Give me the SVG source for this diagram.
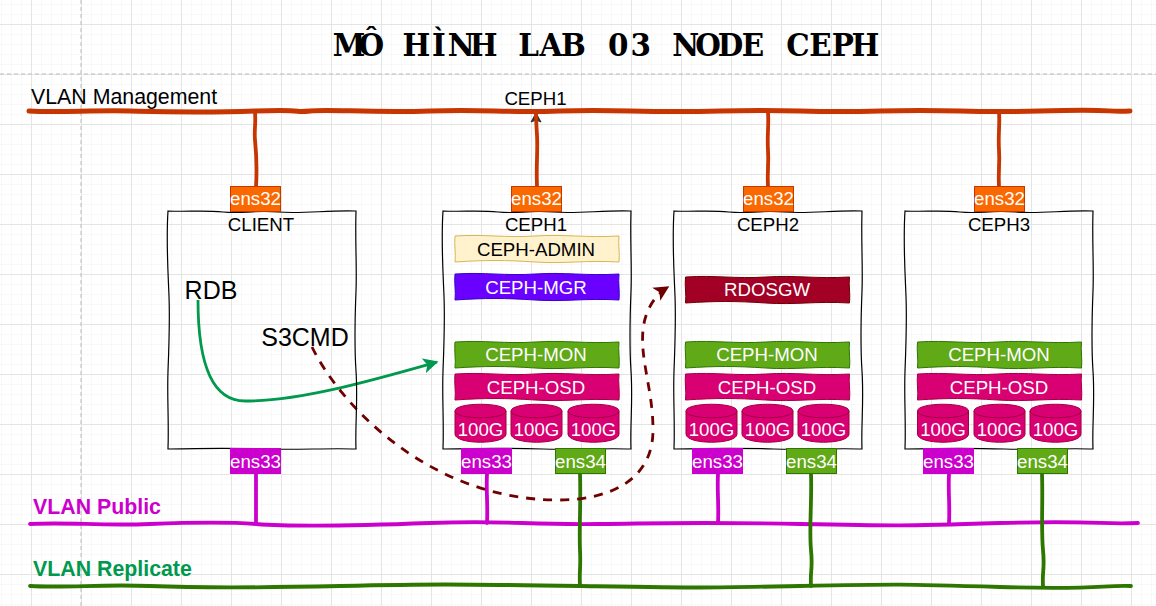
<svg xmlns="http://www.w3.org/2000/svg" width="1156" height="606" viewBox="0 0 1156 606">
<style>
text{font-family:"Liberation Sans",Arial,sans-serif;font-size:18.67px;text-anchor:middle;fill:#000}
.w{fill:#fff}
.title{font-family:"DejaVu Serif","Liberation Serif",serif;font-weight:bold;font-size:31px}
.vlan{font-size:21.33px;text-anchor:start}
.b{font-weight:bold}
.big{font-size:25px}
.box{fill:none;stroke:#000;stroke-width:1.2}
.orange{fill:#fa6800;stroke:#c73500}
.magenta{fill:#cc00cc;stroke:#cc00cc}
.green{fill:#60a917;stroke:#2d7600}
.violet{fill:#6a00ff;stroke:#3700cc}
.pink{fill:#d80073;stroke:#a50040}
.maroon{fill:#a20025;stroke:#6f0000}
.cream{fill:#fff2cc;stroke:#d6b656}
.link{fill:none;stroke-linecap:round;stroke-linejoin:round}
.m{stroke:#c73500;stroke-width:5}
.mv{stroke:#c73500;stroke-width:3.800}
.p{stroke:#cc00cc;stroke-width:3.800}
.r{stroke:#2d7600;stroke-width:3.800}
</style>
<defs>
<pattern id="minor" width="10" height="10" patternUnits="userSpaceOnUse" x="1" y="4"><path d="M0 0H10M0 0V10" fill="none" stroke="#f2f2f2" stroke-width="1"/></pattern>
<pattern id="major" width="50" height="50" patternUnits="userSpaceOnUse" x="31" y="24"><path d="M0 .5H50M.5 0V50" fill="none" stroke="#e4e4e4" stroke-width="1"/></pattern>
<path id="nodebox" class="box" d="M0 0C20 1 35-1 55 1S85-1 110 1 160-1 188 0C187 30 189 55 188 80S186 130 188 160 187 215 188 238C160 237 130 239 100 238S40 237 0 238C1 210-1 185 0 160S2 110 1 85-2 30 0 0Z"/>
<path id="bar" d="M0 0C30-2 50 2 80 0S130 2 164 0C163 9 165 17 164 26C130 24 110 28 80 26S30 24 0 26C1 17-1 9 0 0Z"/>
<g id="cyl"><path d="M0 7C0-2 51-2 51 7V30C51 41 0 41 0 30Z"/><path d="M0 7C0 16 51 16 51 7" fill="none"/></g>
<marker id="ah" viewBox="0 0 10 10" refX="9" refY="5" markerWidth="5.500" markerHeight="5.500" orient="auto" markerUnits="strokeWidth"><path d="M0 0L10 5L0 10L2.500 5Z" fill="context-stroke"/></marker>
</defs>
<g id="grid">
<rect width="1156" height="606" fill="#fff"/>
<rect width="1156" height="606" fill="url(#minor)"/>
<rect width="1156" height="606" fill="url(#major)"/>
<path d="M81 0V606M0 74H1156" stroke="#bdbdbd" stroke-width="1" stroke-dasharray="4 3" fill="none"/>
</g>
<text class="title" transform="translate(349 56) scale(.95 1)" x="0 23.63 47.26 70.89 94.52 118.15 141.78 165.41 189.04 212.67 236.3 259.93 283.56 307.19 330.82 354.45 378.08 401.71 425.34 448.97 472.6 496.23 519.86 543.49">MÔ HÌNH LAB 03 NODE CEPH</text>
<g id="connectors">
<path class="link m" d="M29 111C60 113 90 110 130 111S200 113 255 111 290 113 310 111 370 113 430 111 500 113 560 111 640 113 720 111 800 113 880 111 960 113 1040 111 1100 112 1130 111"/>
<path class="link mv" d="M255 112C256 125 254 130 255 140S257 170 256 187"/>
<path d="M536 113L541 122L536 120L531 122Z" fill="#333" stroke="#333"/>
<path class="mv" fill="none" d="M537 186C536 165 538 150 537 135S536 120 536 113"/>
<path class="link mv" d="M768 112C769 125 767 135 768 150S767 170 768 187"/>
<path class="link mv" d="M999 112C1000 125 998 135 999 150S998 170 999 187"/>
<path class="link p" d="M30 524C70 522 100 526 150 524S230 522 256 524 350 526 430 523 520 525 600 524 700 522 800 524 900 526 1000 523 1100 525 1138 523"/>
<path class="link r" d="M30 586C70 588 100 584 150 586S250 588 340 586 450 584 580 586 700 588 800 586 900 584 1000 587 1100 585 1131 586"/>
<path class="link p" d="M256 474V523"/>
<path class="link p" d="M487 474C486 490 488 505 487 523"/>
<path class="link p" d="M718 474C717 490 719 505 718 523"/>
<path class="link p" d="M949 474C948 490 950 505 949 523"/>
<path class="link r" d="M580 474C581 500 579 530 580 550S579 570 580 586"/>
<path class="link r" d="M811 474C812 500 809 530 811 550S810 570 811 586"/>
<path class="link r" d="M1042 474C1043 500 1041 530 1043 550S1042 570 1043 586"/>
<path fill="none" stroke="#00994d" stroke-width="2.800" marker-end="url(#ah)" d="M198 300C198 345 205 401 245 401C300 401 370 381 437 362"/>
<path fill="none" stroke="#6f0000" stroke-width="2.800" stroke-dasharray="9 8" marker-end="url(#ah)" d="M312 347C340 405 430 500 558 500C610 500 653 480 653 430C653 390 640 360 643 330C645 310 655 295 668 287"/>
<text x="535.500" y="105">CEPH1</text>
</g>
<g id="client">
<use href="#nodebox" x="168" y="211"/>
<text x="261" y="231">CLIENT</text>
<text class="big" x="211" y="299">RDB</text>
<text class="big" x="305" y="346">S3CMD</text>
<rect class="orange" x="230.500" y="186.500" width="50" height="25"/><text class="w" x="255.500" y="205">ens32</text>
<rect class="magenta" x="230.500" y="448.500" width="50" height="25"/><text class="w" x="255.500" y="468">ens33</text>
</g>
<g id="ceph1">
<use href="#nodebox" x="443" y="211"/>
<text x="536" y="231">CEPH1</text>
<use href="#bar" class="cream" x="455" y="236"/><text x="536" y="256">CEPH-ADMIN</text>
<use href="#bar" class="violet" x="455" y="274"/><text class="w" x="536" y="294">CEPH-MGR</text>
<use href="#bar" class="green" x="455" y="342"/><text class="w" x="536" y="361">CEPH-MON</text>
<use href="#bar" class="pink" x="455" y="374"/><text class="w" x="536" y="394">CEPH-OSD</text>
<use href="#cyl" class="pink" x="455" y="404"/><text class="w" x="480.500" y="436">100G</text>
<use href="#cyl" class="pink" x="511" y="404"/><text class="w" x="536.500" y="436">100G</text>
<use href="#cyl" class="pink" x="568" y="404"/><text class="w" x="593.500" y="436">100G</text>
<rect class="orange" x="511.500" y="186.500" width="50" height="25"/><text class="w" x="536.500" y="205">ens32</text>
<rect class="magenta" x="461.500" y="448.500" width="50" height="25"/><text class="w" x="486.500" y="468">ens33</text>
<rect class="green" x="555.500" y="448.500" width="50" height="25"/><text class="w" x="580.500" y="468">ens34</text>
</g>
<g id="ceph2">
<use href="#nodebox" x="674" y="211"/>
<text x="768" y="231">CEPH2</text>
<use href="#bar" class="maroon" x="685.500" y="277"/><text class="w" x="767" y="296">RDOSGW</text>
<use href="#bar" class="green" x="685.500" y="342"/><text class="w" x="767" y="361">CEPH-MON</text>
<use href="#bar" class="pink" x="685.500" y="374"/><text class="w" x="767" y="394">CEPH-OSD</text>
<use href="#cyl" class="pink" x="686" y="404"/><text class="w" x="711.500" y="436">100G</text>
<use href="#cyl" class="pink" x="742" y="404"/><text class="w" x="767.500" y="436">100G</text>
<use href="#cyl" class="pink" x="798" y="404"/><text class="w" x="823.500" y="436">100G</text>
<rect class="orange" x="743.500" y="186.500" width="50" height="25"/><text class="w" x="768.500" y="205">ens32</text>
<rect class="magenta" x="692.500" y="448.500" width="50" height="25"/><text class="w" x="717.500" y="468">ens33</text>
<rect class="green" x="786.500" y="448.500" width="50" height="25"/><text class="w" x="811.500" y="468">ens34</text>
</g>
<g id="ceph3">
<use href="#nodebox" x="905" y="211"/>
<text x="999" y="231">CEPH3</text>
<use href="#bar" class="green" x="917.500" y="342"/><text class="w" x="999" y="361">CEPH-MON</text>
<use href="#bar" class="pink" x="917.500" y="374"/><text class="w" x="999" y="394">CEPH-OSD</text>
<use href="#cyl" class="pink" x="917.500" y="404"/><text class="w" x="943" y="436">100G</text>
<use href="#cyl" class="pink" x="974" y="404"/><text class="w" x="999.500" y="436">100G</text>
<use href="#cyl" class="pink" x="1030" y="404"/><text class="w" x="1055.500" y="436">100G</text>
<rect class="orange" x="974.500" y="186.500" width="50" height="25"/><text class="w" x="999.500" y="205">ens32</text>
<rect class="magenta" x="923.500" y="448.500" width="50" height="25"/><text class="w" x="948.500" y="468">ens33</text>
<rect class="green" x="1017.500" y="448.500" width="50" height="25"/><text class="w" x="1042.500" y="468">ens34</text>
</g>
<g id="labels">
<text class="vlan" x="31" y="104">VLAN Management</text>
<text class="vlan b" x="33" y="514" style="fill:#cc00cc">VLAN Public</text>
<text class="vlan b" x="33" y="576" style="fill:#00994d">VLAN Replicate</text>
</g>
</svg>
